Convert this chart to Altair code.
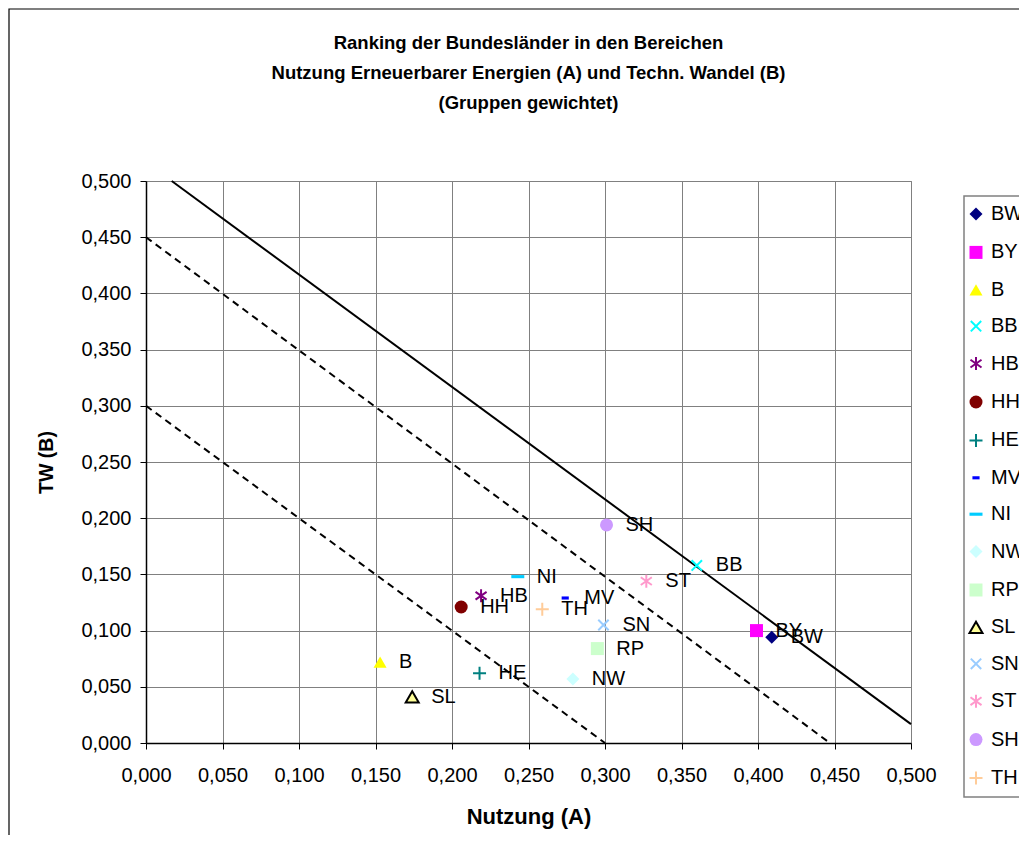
import altair as alt
import pandas as pd

# ---- data ----
laender = ["BW", "BY", "B", "BB", "HB", "HH", "HE", "MV", "NI", "NW", "RP", "SL", "SN", "ST", "SH", "TH"]
nutzung_a = [0.409, 0.399, 0.153, 0.360, 0.219, 0.206, 0.218, 0.274, 0.243, 0.279, 0.295, 0.174, 0.299, 0.327, 0.301, 0.259]
tw_b = [0.094, 0.100, 0.072, 0.158, 0.131, 0.121, 0.062, 0.129, 0.148, 0.057, 0.084, 0.041, 0.105, 0.144, 0.194, 0.119]

fill_colors = ["#000080", "#FF00FF", "#FFFF00", "#00FFFF", "#800080", "#800000", "#008080", "#0000FF",
               "#00CCFF", "#CCFFFF", "#CCFFCC", "#FFFF99", "#99CCFF", "#FF99CC", "#CC99FF", "#FFCC99"]

X_PATH = "M-0.8,-0.8L0.8,0.8M0.8,-0.8L-0.8,0.8"
STAR_PATH = "M0,-1L0,1M-0.85,-0.6L0.85,0.6M-0.85,0.6L0.85,-0.6"
PLUS_PATH = "M-1,0L1,0M0,-1L0,1"
SHORT_DASH = "M-0.55,-0.24H0.55V0.24H-0.55Z"
LONG_DASH = "M-1,-0.24H1V0.24H-1Z"
shapes = ["diamond", "square", "triangle-up", X_PATH, STAR_PATH, "circle", PLUS_PATH, SHORT_DASH,
          LONG_DASH, "diamond", "square", "triangle-up", X_PATH, STAR_PATH, "circle", PLUS_PATH]
line_shapes = {X_PATH, STAR_PATH, PLUS_PATH}
stroke_colors = []
for lab, col, shp in zip(laender, fill_colors, shapes):
    if lab == "SL":
        stroke_colors.append("#000000")
    elif shp in line_shapes:
        stroke_colors.append(col)
    else:
        stroke_colors.append("transparent")

# reference lines
solid_x = [0.0168, 0.5]
solid_y = [0.5, 0.0168]
dash_outer_x = [0.0, 0.447]
dash_outer_y = [0.45, 0.0]
dash_inner_x = [0.0, 0.3]
dash_inner_y = [0.3, 0.0]

tick_values = [0.0, 0.05, 0.1, 0.15, 0.2, 0.25, 0.3, 0.35, 0.4, 0.45, 0.5]

title_lines = ["Ranking der Bundesländer in den Bereichen",
               "Nutzung Erneuerbarer Energien (A) und Techn. Wandel (B)",
               "(Gruppen gewichtet)"]

FONT = "Liberation Sans"

pts = pd.DataFrame({"Land": laender, "A": nutzung_a, "B": tw_b})
solid_df = pd.DataFrame({"A": solid_x, "B": solid_y})
dash_df = pd.DataFrame({
    "A": dash_outer_x + dash_inner_x,
    "B": dash_outer_y + dash_inner_y,
    "g": ["outer"] * 2 + ["inner"] * 2,
})

label_expr = "replace(format(datum.value, '.3f'), '.', ',')"

x_enc = alt.X("A:Q", scale=alt.Scale(domain=[0, 0.5], nice=False, zero=False),
              axis=alt.Axis(values=tick_values, labelExpr=label_expr, title="Nutzung (A)",
                            labelFlush=False, labelOverlap=False, titleFontSize=22,
                            titleX=382.5, titleY=73, titleBaseline="middle", titleAlign="center"))
y_enc = alt.Y("B:Q", scale=alt.Scale(domain=[0, 0.5], nice=False, zero=False),
              axis=alt.Axis(values=tick_values, labelExpr=label_expr, title="TW (B)",
                            labelFlush=False, labelOverlap=False, titleFontSize=19.5,
                            titleX=-99.5, titleY=281, titleAngle=270, titleBaseline="middle",
                            titleAlign="center"))

leg = alt.Legend(title=None, orient="none", legendX=818, legendY=15)

points = alt.Chart(pts).mark_point(filled=True, opacity=1, size=169, strokeWidth=2).encode(
    x=x_enc,
    y=y_enc,
    fill=alt.Fill("Land:N", scale=alt.Scale(domain=laender, range=fill_colors), legend=leg),
    stroke=alt.Stroke("Land:N", scale=alt.Scale(domain=laender, range=stroke_colors), legend=leg),
    shape=alt.Shape("Land:N", scale=alt.Scale(domain=laender, range=shapes), legend=leg),
)

labels = alt.Chart(pts).mark_text(align="left", baseline="middle", dx=19, fontSize=20,
                                   font=FONT, color="black").encode(
    x="A:Q", y="B:Q", text="Land:N"
)

solid = alt.Chart(solid_df).mark_line(color="black", strokeWidth=2).encode(x="A:Q", y="B:Q")
dashed = alt.Chart(dash_df).mark_line(color="black", strokeWidth=2, strokeDash=[7, 5]).encode(
    x="A:Q", y="B:Q", detail="g:N")

frame = alt.Chart(alt.Data(values=[{"k": 1}])).mark_rect(
    fill="white", fillOpacity=0, stroke="black", strokeWidth=1.2).encode(
    x=alt.value(-137), x2=alt.value(1100), y=alt.value(-172), y2=alt.value(900))

chart = alt.layer(frame, solid, dashed, points, labels).properties(
    width=765, height=562,
    background="white",
    title=alt.TitleParams(text=title_lines, fontSize=18.5, font=FONT, fontWeight="bold",
                          anchor="middle", frame="group", offset=0, baseline="top", dy=104,
                          lineHeight=30, color="black"),
    autosize=alt.AutoSizeParams(type="none"),
    padding={"left": 138, "top": 173, "right": 108, "bottom": 92},
)

chart = chart.configure_view(stroke="#808080", strokeWidth=1).configure_axis(
    grid=True, gridColor="#808080", gridWidth=1, gridOpacity=1,
    domainColor="black", domainWidth=1.5, tickColor="black", tickSize=6, tickWidth=1,
    labelFont=FONT, labelFontSize=20, labelColor="black", labelPadding=9,
    titleFont=FONT, titleFontSize=20, titleFontWeight="bold", titleColor="black",
).configure_axisX(labelPadding=16).configure_legend(
    strokeColor="#808080", strokeWidth=1.5, fillColor="white", padding=8,
    labelFont=FONT, labelFontSize=20, labelColor="black", labelOffset=5,
    symbolOffset=-6,
    rowPadding=16.4, symbolSize=169, symbolStrokeWidth=2, symbolOpacity=1,
)

chart.save("out.html", embed_options={"renderer": "svg", "actions": False})
